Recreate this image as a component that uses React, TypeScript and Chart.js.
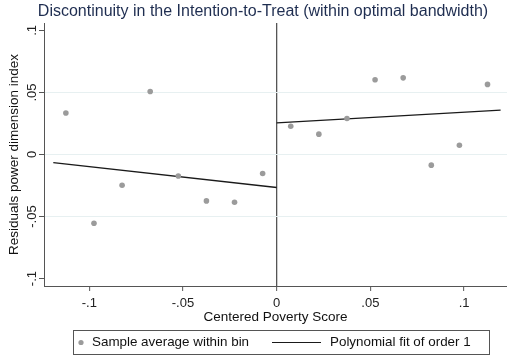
import { useEffect, useRef } from "react";
import { Chart, registerables } from "chart.js";

Chart.register(...registerables);

// ---- data ----
const binX = [
  -0.1125, -0.0975, -0.0825, -0.0675, -0.0525, -0.0375, -0.0225, -0.0075,
  0.0075, 0.0225, 0.0375, 0.0525, 0.0675, 0.0825, 0.0975, 0.1125,
];
const binY = [
  0.0335, -0.0554, -0.0248, 0.0508, -0.0173, -0.0374, -0.0385, -0.0153,
  0.0228, 0.0164, 0.029, 0.0602, 0.0618, -0.0086, 0.0075, 0.0565,
];
const fitLeftX = [-0.1192, 0];
const fitLeftY = [-0.0065, -0.0266];
const fitRightX = [0, 0.1195];
const fitRightY = [0.0255, 0.0357];
const xTicks = [-0.1, -0.05, 0, 0.05, 0.1];
const yTicks = [-0.1, -0.05, 0, 0.05, 0.1];
const legendLabels = ["Sample average within bin", "Polynomial fit of order 1"];
const titleText = "Discontinuity in the Intention-to-Treat (within optimal bandwidth)";
const xTitle = "Centered Poverty Score";
const yTitle = "Residuals power dimension index";

const FONT = "'Liberation Sans', Arial, sans-serif";
const POINT_COLOR = "#9b9b9b";
const LINE_COLOR = "#1a1a1a";
const AXIS_COLOR = "#555555";
const GRID_COLOR = "#e7f0f1";

function fmt(v: number): string {
  if (Math.abs(v) < 1e-9) return "0";
  const s = String(+v.toFixed(3));
  return s.replace(/^(-?)0\./, "$1.");
}

const legendPlugin = {
  id: "stataLegend",
  afterDraw(chart: any) {
    const ctx = chart.ctx as CanvasRenderingContext2D;
    ctx.save();
    ctx.strokeStyle = AXIS_COLOR;
    ctx.lineWidth = 1;
    ctx.strokeRect(73.5, 330.5, 416, 24);
    const cy = 342.5;
    ctx.fillStyle = POINT_COLOR;
    ctx.beginPath();
    ctx.arc(81, cy, 2.6, 0, Math.PI * 2);
    ctx.fill();
    ctx.strokeStyle = LINE_COLOR;
    ctx.lineWidth = 1.2;
    ctx.beginPath();
    ctx.moveTo(272, cy);
    ctx.lineTo(321, cy);
    ctx.stroke();
    ctx.fillStyle = "#111";
    ctx.font = `13.4px ${FONT}`;
    ctx.textBaseline = "middle";
    ctx.textAlign = "left";
    ctx.fillText(legendLabels[0], 92, cy);
    ctx.fillText(legendLabels[1], 330, cy);
    ctx.restore();
  },
};

export default function App() {
  const ref = useRef<HTMLCanvasElement | null>(null);

  useEffect(() => {
    document.body.style.margin = "0";
    const canvas = ref.current;
    if (!canvas) return;
    const chart = new Chart(canvas, {
      type: "scatter",
      data: {
        datasets: [
          {
            type: "scatter",
            label: legendLabels[0],
            data: binX.map((x, i) => ({ x, y: binY[i] })),
            backgroundColor: POINT_COLOR,
            borderWidth: 0,
            pointRadius: 2.8,
          },
          {
            type: "line",
            label: legendLabels[1],
            data: fitLeftX.map((x, i) => ({ x, y: fitLeftY[i] })),
            borderColor: LINE_COLOR,
            borderWidth: 1.3,
            pointRadius: 0,
            fill: false,
          },
          {
            type: "line",
            label: legendLabels[1] + " (right)",
            data: fitRightX.map((x, i) => ({ x, y: fitRightY[i] })),
            borderColor: LINE_COLOR,
            borderWidth: 1.3,
            pointRadius: 0,
            fill: false,
          },
        ],
      },
      options: {
        responsive: false,
        animation: false,
        devicePixelRatio: 1,
        layout: { autoPadding: false, padding: { left: 0, right: -19, top: 0, bottom: 34 } },
        plugins: {
          legend: { display: false },
          tooltip: { enabled: false },
          title: {
            display: true,
            text: titleText,
            color: "#1e2d50",
            font: { family: FONT, size: 16, weight: "normal", lineHeight: 1.2 },
            padding: { top: 2, bottom: 1.8 },
          },
        },
        scales: {
          x: {
            type: "linear",
            min: -0.12417,
            max: 0.1229,
            afterBuildTicks: (scale: any) => {
              scale.ticks = xTicks.map((v) => ({ value: v }));
            },
            afterFit: (scale: any) => {
              scale.height = 40;
            },
            ticks: {
              autoSkip: false,
              maxRotation: 0,
              minRotation: 0,
              padding: 5,
              color: "#222",
              font: { family: FONT, size: 13 },
              callback: (v: any) => fmt(Number(v)),
            },
            grid: {
              drawOnChartArea: true,
              color: (c: any) => (c.tick && Math.abs(c.tick.value) < 1e-9 ? AXIS_COLOR : "rgba(0,0,0,0)"),
              lineWidth: 1.3,
              tickColor: AXIS_COLOR,
              tickLength: 5,
              tickWidth: 1,
            },
            border: { display: true, color: AXIS_COLOR, width: 1 },
            title: {
              display: true,
              text: xTitle,
              color: "#111",
              font: { family: FONT, size: 13.5, lineHeight: 1.2 },
              padding: { top: 0, bottom: 1 },
            },
          },
          y: {
            type: "linear",
            min: -0.106,
            max: 0.106,
            afterBuildTicks: (scale: any) => {
              scale.ticks = yTicks.map((v) => ({ value: v }));
            },
            afterFit: (scale: any) => {
              scale.width = 44;
            },
            ticks: {
              autoSkip: false,
              minRotation: 90,
              maxRotation: 90,
              crossAlign: "center",
              padding: -4.2,
              color: "#222",
              font: { family: FONT, size: 13 },
              callback: (v: any) => fmt(Number(v)),
            },
            grid: {
              color: (c: any) => (c.tick && Math.abs(Math.abs(c.tick.value) - 0.1) < 1e-9 ? "rgba(0,0,0,0)" : GRID_COLOR),
              lineWidth: 1,
              tickColor: AXIS_COLOR,
              tickLength: 5,
              tickWidth: 1,
            },
            border: { display: true, color: AXIS_COLOR, width: 1 },
            title: {
              display: true,
              text: yTitle,
              color: "#111",
              font: { family: FONT, size: 13.5, lineHeight: 1.2 },
              padding: { top: 6.5, bottom: 0 },
            },
          },
        },
      },
      plugins: [legendPlugin],
    } as any);
    return () => chart.destroy();
  }, []);

  return (
    <div style={{ width: 507, height: 360 }}>
      <canvas ref={ref} width={507} height={360} style={{ display: "block" }} />
    </div>
  );
}
